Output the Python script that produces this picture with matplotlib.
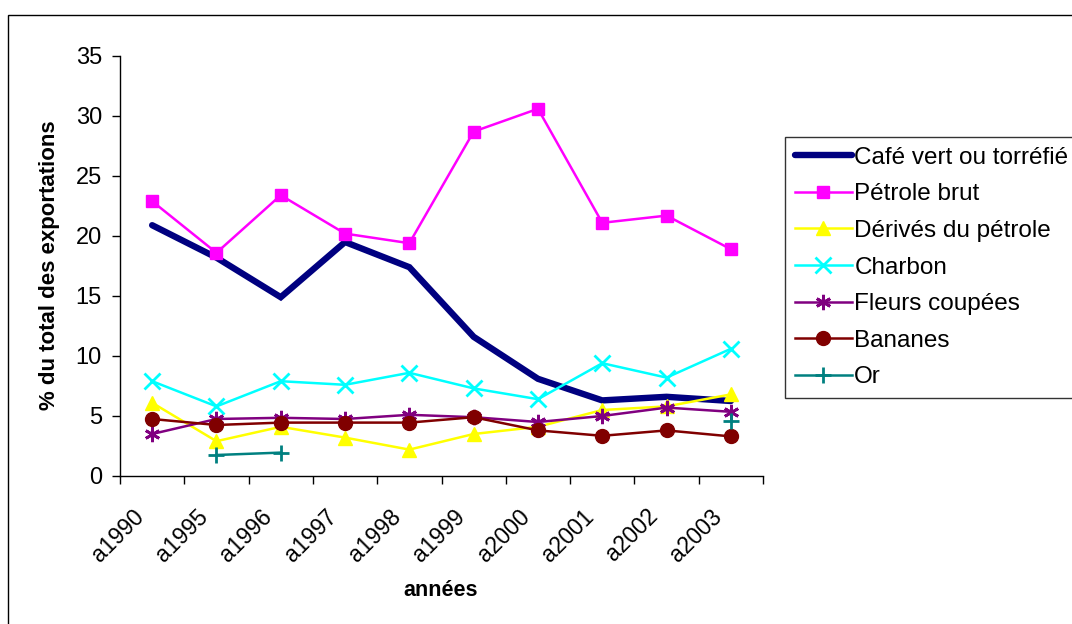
import numpy as np
import matplotlib
matplotlib.use("Agg")
import matplotlib.pyplot as plt
from matplotlib.patches import Rectangle
from matplotlib.transforms import ScaledTranslation

categories = ["a1990", "a1995", "a1996", "a1997", "a1998", "a1999", "a2000", "a2001", "a2002", "a2003"]
cafe = [20.9, 18.2, 14.9, 19.5, 17.4, 11.6, 8.1, 6.3, 6.6, 6.25]
petrole = [22.9, 18.6, 23.4, 20.2, 19.4, 28.7, 30.6, 21.1, 21.7, 18.9]
derives = [6.1, 2.9, 4.1, 3.2, 2.2, 3.5, 4.1, 5.5, 5.8, 6.8]
charbon = [7.9, 5.8, 7.9, 7.6, 8.6, 7.3, 6.4, 9.4, 8.2, 10.6]
fleurs = [3.5, 4.75, 4.85, 4.75, 5.1, 4.9, 4.5, 5.0, 5.7, 5.35]
bananes = [4.75, 4.25, 4.45, 4.45, 4.45, 4.9, 3.8, 3.35, 3.8, 3.3]
orr = [np.nan, 1.75, 1.95, np.nan, np.nan, np.nan, np.nan, np.nan, np.nan, 4.6]
y_ticks = [0, 5, 10, 15, 20, 25, 30, 35]

plt.rcParams['font.family'] = ['Liberation Sans', 'DejaVu Sans']

W, H = 1072, 624
fig = plt.figure(figsize=(W / 100, H / 100), dpi=100)
ax = fig.add_axes([120 / W, 1 - 476 / H, (763 - 120) / W, (476 - 56) / H])

x = np.arange(len(categories))
ax.plot(x, cafe, color='#000080', lw=4.6, solid_capstyle='round', solid_joinstyle='miter',
        label='Café vert ou torréfié')
ax.plot(x, petrole, color='#FF00FF', lw=1.8, marker='s', ms=9, mec='#FF00FF', mfc='#FF00FF',
        label='Pétrole brut')
ax.plot(x, derives, color='#FFFF00', lw=1.8, marker='^', ms=10, mec='#FFFF00', mfc='#FFFF00',
        label='Dérivés du pétrole')
ax.plot(x, charbon, color='#00FFFF', lw=1.8, marker='x', ms=11, mew=2,
        label='Charbon')
ax.plot(x, fleurs, color='#800080', lw=1.8, marker=(6, 2, 0), ms=11, mew=2,
        label='Fleurs coupées')
ax.plot(x, bananes, color='#800000', lw=1.8, marker='o', ms=10, mec='#800000', mfc='#800000',
        label='Bananes')
ax.plot(x, orr, color='#008080', lw=1.8, marker='+', ms=12, mew=2,
        label='Or')

ax.set_xlim(-0.5, len(categories) - 0.5)
ax.set_ylim(0, 35)
ax.set_yticks(y_ticks)
ax.set_xticks(np.arange(len(categories) + 1) - 0.5)
ax.set_xticklabels([])
ax.tick_params(axis='x', which='major', length=6, width=1, direction='out', color='black')
ax.tick_params(axis='y', length=6, width=1, direction='out', labelsize=17, pad=7)

# category labels centred under each category, rotated like Excel
off = ScaledTranslation(-12 / 100, -37 / 100, fig.dpi_scale_trans)
for i, lab in enumerate(categories):
    ax.text(i, 0, lab, transform=ax.get_xaxis_transform() + off, rotation=45,
            rotation_mode='anchor', ha='right', va='center', fontsize=16.5)

for s in ['top', 'right']:
    ax.spines[s].set_visible(False)
for s in ['left', 'bottom']:
    ax.spines[s].set_color('black')
    ax.spines[s].set_linewidth(1)

fig.text(50 / W, 1 - 265 / H, '% du total des exportations', rotation=90, ha='center', va='center',
         fontsize=16, fontweight='bold')
fig.text(441 / W, 1 - 590 / H, 'années', ha='center', va='center', fontsize=15.5, fontweight='bold')

leg = ax.legend(loc='upper left', bbox_to_anchor=(785 / W, 1 - 137 / H), bbox_transform=fig.transFigure,
                borderaxespad=0, fontsize=17.5, frameon=True, fancybox=False, edgecolor='black',
                handlelength=2.35, handletextpad=0.1, labelspacing=0.6, borderpad=0.4)
leg.get_frame().set_linewidth(1)

fig.patches.append(Rectangle((8 / W, -0.1), 1.2, 1.1 - 15 / H, transform=fig.transFigure,
                             fill=False, edgecolor='black', lw=1))

fig.savefig('out.png', dpi=100)
